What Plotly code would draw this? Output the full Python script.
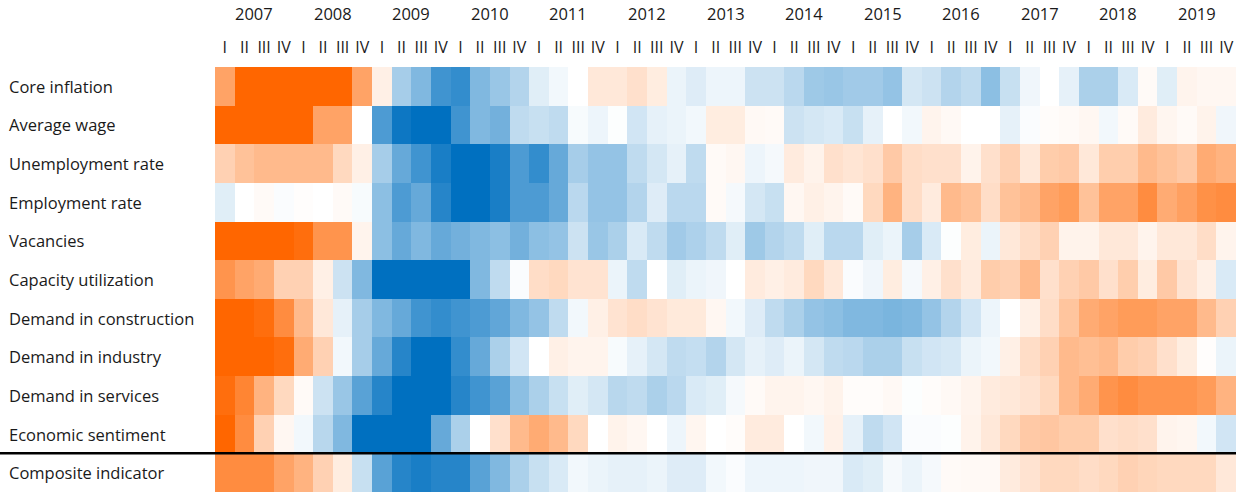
import plotly.graph_objects as go

indicators = ["Core inflation", "Average wage", "Unemployment rate", "Employment rate",
              "Vacancies", "Capacity utilization", "Demand in construction",
              "Demand in industry", "Demand in services", "Economic sentiment",
              "Composite indicator"]
years = [str(y) for y in range(2007, 2020)]
quarters = ["I", "II", "III", "IV"]

core_inflation = [0.6,1,1,1,1,1,1,0.6,0.1,-0.35,-0.5,-0.75,-0.8, -0.5,-0.4,-0.3,-0.12,-0.05,0,0.15,0.15,0.2,0.12,-0.08,-0.13,-0.07, -0.07,-0.2,-0.2,-0.27,-0.38,-0.4,-0.37,-0.37,-0.42,-0.17,-0.2,-0.3,-0.25, -0.45,-0.22,-0.06,0,-0.1,-0.33,-0.33,-0.15,0.03,-0.12,0.07,0.05,0.05]
average_wage = [1,1,1,1,1,0.6,0.6,0,-0.7,-0.95,-1,-1,-0.75, -0.5,-0.55,-0.25,-0.22,-0.25,-0.03,-0.07,-0.01,-0.18,-0.1,-0.08,-0.05,0.12, 0.12,0.04,0.03,-0.2,-0.17,-0.15,-0.22,-0.1,0,-0.05,0.07,0.04,0, 0,-0.1,-0.02,0.02,0.03,0.05,-0.05,0.03,0.13,0.06,0.03,0.08,-0.06]
unemployment_rate = [0.3,0.4,0.45,0.45,0.45,0.45,0.25,0.1,-0.35,-0.6,-0.75,-0.9,-1, -1,-0.9,-0.7,-0.8,-0.6,-0.35,-0.42,-0.42,-0.25,-0.17,-0.1,-0.25,0.03, 0.05,-0.07,-0.04,0.13,0.08,0.2,0.17,0.2,0.35,0.22,0.2,0.2,0.08, 0.2,0.3,0.15,0.33,0.35,0.15,0.32,0.32,0.45,0.4,0.35,0.55,0.5]
employment_rate = [-0.12,0,0.03,-0.02,0.01,0,0.03,-0.03,-0.45,-0.7,-0.6,-0.85,-1, -1,-0.9,-0.7,-0.7,-0.6,-0.27,-0.42,-0.42,-0.3,-0.13,-0.27,-0.27,0.03, -0.04,-0.17,-0.22,0.05,0.1,0.07,0.03,0.25,0.5,0.22,0.13,0.45,0.4, 0.22,0.4,0.45,0.6,0.65,0.4,0.6,0.6,0.75,0.55,0.62,0.72,0.75]
vacancies = [1,1,1,1,0.95,0.7,0.7,0.07,-0.45,-0.6,-0.5,-0.6,-0.55, -0.5,-0.45,-0.55,-0.45,-0.42,-0.2,-0.4,-0.33,-0.15,-0.25,-0.37,-0.32,-0.25, -0.12,-0.38,-0.3,-0.25,-0.12,-0.27,-0.27,-0.12,-0.08,-0.35,-0.15,-0.01,0.12, -0.08,0.15,0.22,0.3,0.08,0.08,0.15,0.15,0.07,0.15,0.15,0.22,0.07]
capacity_utilization = [0.7,0.6,0.55,0.3,0.3,0.1,-0.2,-0.5,-1,-1,-1,-1,-1, -0.5,-0.25,-0.02,0.22,0.25,0.18,0.18,-0.08,-0.25,0,-0.12,-0.08,-0.06, 0,0.13,0.1,0.13,0.25,0.15,-0.02,-0.06,0.12,-0.04,0.1,0.2,0.13, 0.33,0.3,0.45,0.2,0.3,0.35,0.2,0.32,0.12,0.35,0.18,0.1,-0.15]
demand_construction = [1,1,0.95,0.75,0.45,0.15,-0.1,-0.35,-0.5,-0.6,-0.75,-0.8,-0.75, -0.7,-0.62,-0.5,-0.42,-0.25,-0.05,0.1,0.18,0.22,0.18,0.14,0.14,0.05, -0.05,-0.13,-0.25,-0.33,-0.42,-0.45,-0.5,-0.5,-0.52,-0.5,-0.42,-0.3,-0.18, -0.07,0,0.1,0.22,0.38,0.55,0.6,0.65,0.65,0.6,0.6,0.45,0.3]
demand_industry = [1,1,1,0.95,0.55,0.3,-0.05,-0.35,-0.6,-0.85,-1,-1,-0.8, -0.6,-0.33,-0.18,0,0.1,0.07,0.07,-0.03,-0.1,-0.17,-0.25,-0.23,-0.3, -0.17,-0.1,-0.13,-0.08,-0.17,-0.25,-0.27,-0.33,-0.33,-0.22,-0.18,-0.16,-0.08, -0.05,0.1,0.22,0.3,0.45,0.42,0.45,0.33,0.3,0.2,0.12,0.01,-0.08]
demand_services = [0.95,0.8,0.5,0.25,0.03,-0.2,-0.4,-0.65,-0.85,-1,-1,-1,-0.85, -0.75,-0.65,-0.45,-0.33,-0.22,-0.12,-0.17,-0.28,-0.25,-0.33,-0.27,-0.15,-0.12, -0.04,0.03,0.07,0.07,0.05,0.08,0.02,0.02,0.04,-0.01,0.02,0.04,0.07, 0.13,0.15,0.18,0.25,0.45,0.55,0.7,0.75,0.7,0.7,0.7,0.65,0.5]
economic_sentiment = [1,0.75,0.3,0.05,-0.05,-0.28,-0.5,-1,-1,-1,-1,-0.6,-0.33, 0,0.2,0.45,0.55,0.45,0.25,0,0.08,0.05,0,-0.07,0.06,0, 0.02,0.13,0.13,0,-0.05,0.09,-0.1,-0.25,-0.18,-0.02,-0.02,-0.01,0.08, 0.15,0.25,0.35,0.37,0.33,0.33,0.2,0.22,0.2,0.07,0.06,-0.05,-0.18]
composite_indicator = [0.75,0.75,0.75,0.6,0.5,0.3,0.12,-0.22,-0.65,-0.85,-0.9,-0.85,-0.85, -0.65,-0.5,-0.33,-0.22,-0.15,-0.05,-0.08,-0.1,-0.1,-0.08,-0.13,-0.13,-0.05, -0.02,-0.07,-0.07,-0.07,-0.06,-0.06,-0.15,-0.12,-0.04,-0.08,-0.04,0.03,0.04, 0.04,0.13,0.18,0.25,0.25,0.22,0.25,0.3,0.27,0.25,0.25,0.25,0.15]

z = [core_inflation, average_wage, unemployment_rate, employment_rate, vacancies,
     capacity_utilization, demand_construction, demand_industry, demand_services,
     economic_sentiment, composite_indicator]

n_cols = len(years) * len(quarters)
x_idx = list(range(n_cols))
y_idx = list(range(len(indicators)))
quarter_text = [q for _ in years for q in quarters]

FONT = "Open Sans"
TXT = "#1a1a1a"

fig = go.Figure(go.Heatmap(
    z=z, x=x_idx, y=y_idx,
    zmin=-1, zmax=1, zmid=0,
    colorscale=[[0, "rgb(0,112,192)"], [0.5, "rgb(255,255,255)"], [1, "rgb(255,102,0)"]],
    showscale=False, hoverinfo="skip",
))

W, H = 1236, 492
L, T = 215, 67
plot_w = W - L
plot_h = H - T

annotations = []
for i, name in enumerate(indicators):
    annotations.append(dict(text=name, xref="paper", yref="y", x=-(L - 7) / plot_w, y=i,
                            xanchor="left", yanchor="middle", showarrow=False,
                            font=dict(family=FONT, size=16.5, color=TXT)))
for j, yr in enumerate(years):
    annotations.append(dict(text=yr, xref="x", yref="paper", x=j * 4 + 1.5,
                            y=1 + (T - 14) / plot_h, xanchor="center", yanchor="middle",
                            showarrow=False, font=dict(family=FONT, size=16.5, color=TXT)))

fig.update_layout(
    width=W, height=H,
    margin=dict(l=L, r=0, t=T, b=0, autoexpand=False),
    paper_bgcolor="white", plot_bgcolor="white",
    xaxis=dict(side="top", range=[-0.5, n_cols - 0.5], tickvals=x_idx, ticktext=quarter_text,
               ticks="outside", ticklen=7, tickcolor="rgba(0,0,0,0)", showgrid=False,
               zeroline=False, showline=False, automargin=False, tickangle=0,
               tickfont=dict(family=FONT, size=16, color=TXT)),
    yaxis=dict(range=[len(indicators) - 0.5, -0.5], showticklabels=False, showgrid=False,
               zeroline=False, showline=False, ticks="", automargin=False),
    annotations=annotations,
    shapes=[dict(type="line", xref="paper", yref="y", x0=-L / plot_w, x1=1,
                 y0=len(indicators) - 1.5, y1=len(indicators) - 1.5,
                 line=dict(color="black", width=2.5))],
)

fig.write_html("out.html", config={"displayModeBar": False},
               post_script="document.body.style.margin='0px';document.body.style.padding='0px';")
